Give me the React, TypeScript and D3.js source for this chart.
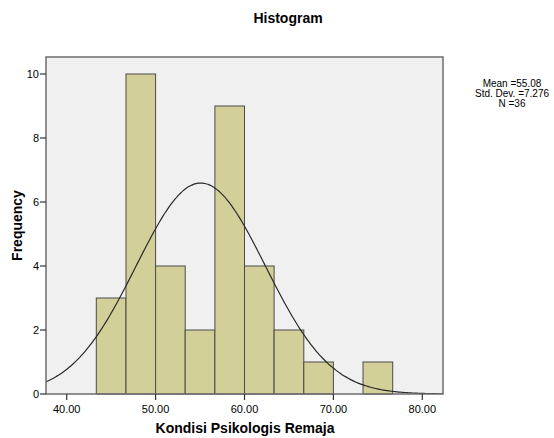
import React from 'react'
import * as d3 from 'd3'

// histogram bins (lower edge, upper edge) and counts
const binStarts = [43.33, 46.67, 50.0, 53.33, 56.67, 60.0, 63.33, 66.67, 70.0, 73.33]
const binEnds = [46.67, 50.0, 53.33, 56.67, 60.0, 63.33, 66.67, 70.0, 73.33, 76.67]
const counts = [3, 10, 4, 2, 9, 4, 2, 1, 0, 1]

const xTicks = [40, 50, 60, 70, 80]
const yTicks = [0, 2, 4, 6, 8, 10]

const mean = 55.08
const stdDev = 7.276
const nCases = 36

const W = 554
const H = 438
const plot = { left: 46, top: 57, right: 443, bottom: 394 }
const font = 'Liberation Sans, Arial, sans-serif'

export default function App() {
  // scales
  const x = d3.scaleLinear().domain([40, 80]).range([66.7, 422.3])
  const y = d3.scaleLinear().domain([0, 10]).range([394, 74])
  const xMin = x.invert(plot.left)
  const xMax = x.invert(plot.right)

  // normal curve scaled to counts
  const binW = binEnds[0] - binStarts[0]
  const scale = nCases * binW / (stdDev * Math.sqrt(2 * Math.PI))
  const curvePts = d3.range(0, 201).map(i => {
    const v = xMin + (xMax - xMin) * i / 200
    return [v, scale * Math.exp(-0.5 * Math.pow((v - mean) / stdDev, 2))]
  })
  const line = d3.line<number[]>()
    .x(d => x(d[0]))
    .y(d => y(d[1]))
    .curve(d3.curveBasis)

  return (
    <svg width={W} height={H} style={{ position: 'absolute', left: 0, top: 0 }} fontFamily={font}>
      <rect x={0} y={0} width={W} height={H} fill="#ffffff" />
      <text x={288} y={23} textAnchor="middle" fontSize={14} fontWeight="bold" fill="#000">Histogram</text>

      {/* plot background */}
      <rect x={plot.left} y={plot.top} width={plot.right - plot.left} height={plot.bottom - plot.top} fill="#f0f0f0" />

      {/* bars */}
      {counts.map((c, i) => c > 0 && (
        <rect key={i}
          x={x(binStarts[i])} y={y(c)}
          width={x(binEnds[i]) - x(binStarts[i])} height={y(0) - y(c)}
          fill="#d3cf98" stroke="#4a4a4a" strokeWidth={1} />
      ))}

      {/* normal curve */}
      <clipPath id="clip"><rect x={plot.left} y={plot.top} width={plot.right - plot.left} height={plot.bottom - plot.top} /></clipPath>
      <path d={line(curvePts) || ''} fill="none" stroke="#2a2a2a" strokeWidth={1.2} clipPath="url(#clip)" />

      {/* frame */}
      <rect x={plot.left} y={plot.top} width={plot.right - plot.left} height={plot.bottom - plot.top} fill="none" stroke="#6e6e6e" strokeWidth={1.5} />

      {/* y axis */}
      {yTicks.map(t => (
        <g key={t}>
          <line x1={plot.left - 6} x2={plot.left} y1={y(t)} y2={y(t)} stroke="#333" strokeWidth={1.2} />
          <text x={plot.left - 7} y={y(t) + 4} textAnchor="end" fontSize={11} fill="#000">{t}</text>
        </g>
      ))}

      {/* x axis */}
      {xTicks.map(t => (
        <g key={t}>
          <line x1={x(t)} x2={x(t)} y1={plot.bottom} y2={plot.bottom + 6} stroke="#333" strokeWidth={1.2} />
          <text x={x(t)} y={plot.bottom + 19} textAnchor="middle" fontSize={11} fill="#000">{t.toFixed(2)}</text>
        </g>
      ))}

      <text x={245} y={433} textAnchor="middle" fontSize={14} fontWeight="bold" fill="#000">Kondisi Psikologis Remaja</text>
      <text transform={`translate(22,${(plot.top + plot.bottom) / 2}) rotate(-90)`} textAnchor="middle" fontSize={14} fontWeight="bold" fill="#000">Frequency</text>

      {/* stats */}
      <g fontSize={10} fill="#000" textAnchor="middle">
        <text x={512} y={87}>Mean ={mean.toFixed(2)}</text>
        <text x={512} y={97}>Std. Dev. ={stdDev.toFixed(3)}</text>
        <text x={512} y={107}>N ={nCases}</text>
      </g>
    </svg>
  )
}
